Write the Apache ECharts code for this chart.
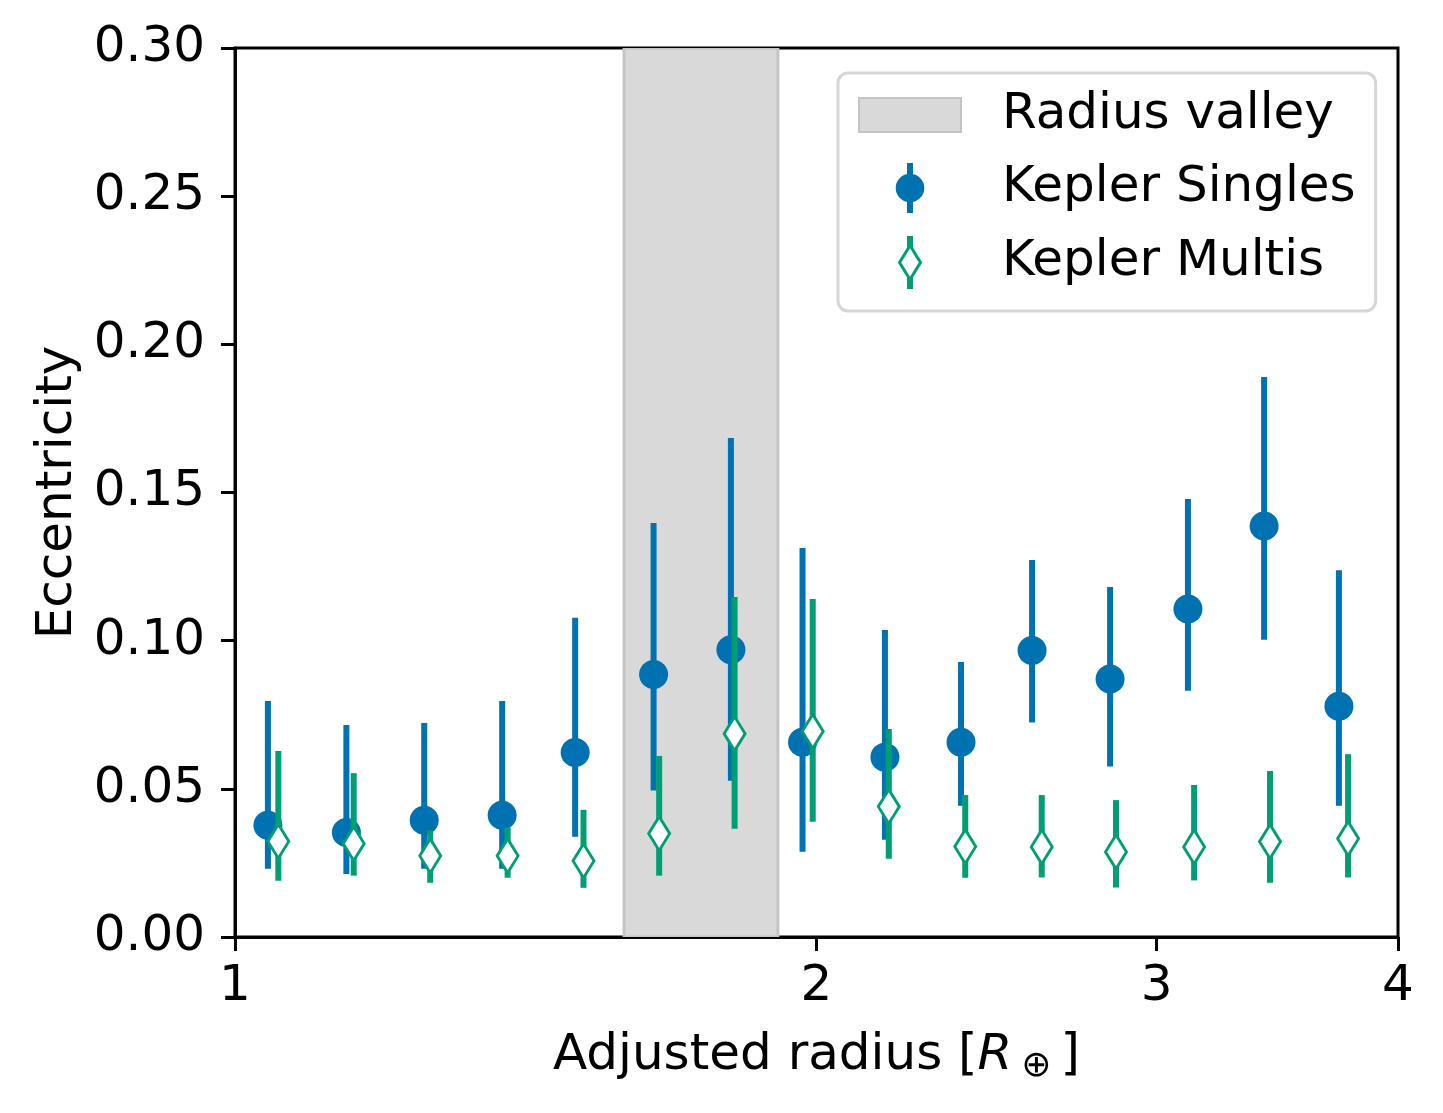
<!DOCTYPE html>
<html><head><meta charset="utf-8">
<script src="https://cdn.jsdelivr.net/npm/echarts@6/dist/echarts.min.js"></script>
<style>html,body{margin:0;padding:0;background:#fff}#c{width:1443px;height:1113px}</style>
</head><body><div id="c"></div>
<script>
// ---- data ----
const xTickValues = [1, 2, 3, 4];
const valleyRange = [1.59, 1.91];

const singlesR  = [1.040, 1.142, 1.253, 1.375, 1.500, 1.647, 1.806, 1.967, 2.170, 2.376, 2.586, 2.838, 3.114, 3.410, 3.728];
const singlesE  = [0.0377, 0.0353, 0.0394, 0.0411, 0.0623, 0.0886, 0.0969, 0.0657, 0.0607, 0.0657, 0.0967, 0.0871, 0.1107, 0.1387, 0.0779];
const singlesLo = [0.0230, 0.0213, 0.0230, 0.0230, 0.0338, 0.0494, 0.0527, 0.0288, 0.0328, 0.0443, 0.0724, 0.0575, 0.0831, 0.1003, 0.0443];
const singlesHi = [0.0796, 0.0715, 0.0722, 0.0796, 0.1077, 0.1397, 0.1684, 0.1313, 0.1036, 0.0928, 0.1272, 0.1181, 0.1478, 0.1890, 0.1238];

const multisR  = [1.053, 1.152, 1.262, 1.384, 1.515, 1.658, 1.814, 1.991, 2.180, 2.388, 2.616, 2.858, 3.137, 3.434, 3.769];
const multisE  = [0.0323, 0.0315, 0.0274, 0.0274, 0.0257, 0.0349, 0.0686, 0.0694, 0.0440, 0.0305, 0.0304, 0.0287, 0.0304, 0.0322, 0.0332];
const multisLo = [0.0190, 0.0207, 0.0183, 0.0200, 0.0166, 0.0207, 0.0365, 0.0389, 0.0264, 0.0200, 0.0201, 0.0167, 0.0191, 0.0183, 0.0201];
const multisHi = [0.0628, 0.0553, 0.0360, 0.0370, 0.0429, 0.0611, 0.1147, 0.1141, 0.0702, 0.0479, 0.0479, 0.0462, 0.0513, 0.0560, 0.0617];

// ---- styling ----
const BLUE = '#0072b2', GREEN = '#009e73';
const FONT = 'DejaVu Sans';
const FS = 50;

const chart = echarts.init(document.getElementById('c'), null, {renderer: 'canvas'});

function errRender(color) {
  return function (params, api) {
    const x = api.value(0);
    const p1 = api.coord([x, api.value(1)]);
    const p2 = api.coord([x, api.value(2)]);
    return {type: 'line', shape: {x1: p1[0], y1: p1[1], x2: p2[0], y2: p2[1]},
            style: {stroke: color, lineWidth: 6}};
  };
}

const singlesIcon = 'path://M-3,-25 L-3,25 L3,25 L3,-25 Z M-14.3,0 A14.3,14.3 0 1,0 14.3,0 A14.3,14.3 0 1,0 -14.3,0 Z';
const multisIcon = 'path://M0,-17 L10.5,0 L0,17 L-10.5,0 Z M-1.5,-25 L1.5,-25 L1.5,-17 L-1.5,-17 Z M-1.5,17 L1.5,17 L1.5,25 L-1.5,25 Z';
const patchIcon = 'path://M0,0 L102,0 L102,34 L0,34 Z';

const option = {
  animation: false,
  backgroundColor: '#fff',
  textStyle: {fontFamily: FONT},
  grid: {left: 235, top: 48, right: 45, bottom: 176, containLabel: false, outerBoundsMode: 'none',
         show: true, borderColor: '#000', borderWidth: 3, backgroundColor: 'transparent'},
  legend: {
    orient: 'vertical', left: 838, top: 73,
    padding: [17, 20, 22, 20],
    itemWidth: 102, itemHeight: 50, itemGap: 23,
    backgroundColor: '#fff', borderColor: '#d6d6d6', borderWidth: 3, borderRadius: 10,
    selectedMode: false,
    textStyle: {fontFamily: FONT, fontSize: FS, color: '#000', padding: [16, 0, 0, 36]},
    data: [
      {name: 'Radius valley', icon: patchIcon, itemStyle: {color: '#d9d9d9', borderColor: '#c4c4c4', borderWidth: 2}},
      {name: 'Kepler Singles', icon: singlesIcon, itemStyle: {color: BLUE, borderWidth: 0}},
      {name: 'Kepler Multis', icon: multisIcon, itemStyle: {color: '#fff', borderColor: GREEN, borderWidth: 3}}
    ]
  },
  xAxis: {
    type: 'log', logBase: 10, min: 1, max: 4,
    name: 'Adjusted radius [{i|R}{s|⊕}]', nameLocation: 'middle', nameGap: 94,
    nameTextStyle: {fontFamily: FONT, fontSize: FS, color: '#000',
      rich: {
        i: {fontFamily: FONT, fontSize: FS, fontStyle: 'italic', color: '#000'},
        s: {fontFamily: FONT, fontSize: 36, color: '#000', verticalAlign: 'top', lineHeight: 32, padding: [18, 9, 0, 9]}
      }},
    axisLine: {show: true, lineStyle: {color: '#000', width: 3}},
    axisTick: {show: true, length: 14, lineStyle: {color: '#000', width: 3}, customValues: xTickValues},
    axisLabel: {show: true, fontFamily: FONT, fontSize: FS, color: '#000', margin: 25, customValues: xTickValues,
                formatter: v => String(Math.round(v))},
    splitLine: {show: false}, minorTick: {show: false}, minorSplitLine: {show: false}
  },
  yAxis: {
    type: 'value', min: 0, max: 0.3, interval: 0.05,
    name: 'Eccentricity', nameLocation: 'middle', nameGap: 150, nameRotate: 90,
    nameTextStyle: {fontFamily: FONT, fontSize: FS, color: '#000'},
    axisLine: {show: true, lineStyle: {color: '#000', width: 3}},
    axisTick: {show: true, length: 14, lineStyle: {color: '#000', width: 3}},
    axisLabel: {fontFamily: FONT, fontSize: FS, color: '#000', margin: 30, formatter: v => v.toFixed(2)},
    splitLine: {show: false}
  },
  series: [
    {
      name: 'Radius valley', type: 'custom', z: 1, silent: true, clip: true,
      data: [[valleyRange[0], valleyRange[1]]],
      encode: {x: [0, 1]},
      renderItem: function (params, api) {
        const a = api.coord([api.value(0), 0.3]);
        const b = api.coord([api.value(1), 0]);
        return {type: 'rect', shape: {x: a[0], y: a[1], width: b[0] - a[0], height: b[1] - a[1]},
                style: {fill: '#d9d9d9', stroke: '#c4c4c4', lineWidth: 3}};
      },
      itemStyle: {color: '#d9d9d9'}
    },
    {
      name: 'singlesErr', type: 'custom', z: 2, silent: true,
      data: singlesR.map((r, i) => [r, singlesLo[i], singlesHi[i]]),
      encode: {x: 0, y: [1, 2]},
      renderItem: errRender(BLUE)
    },
    {
      name: 'Kepler Singles', type: 'scatter', z: 3, silent: true,
      symbol: 'circle', symbolSize: 29,
      data: singlesR.map((r, i) => [r, singlesE[i]]),
      itemStyle: {color: BLUE, opacity: 1}
    },
    {
      name: 'multisErr', type: 'custom', z: 4, silent: true,
      data: multisR.map((r, i) => [r, multisLo[i], multisHi[i]]),
      encode: {x: 0, y: [1, 2]},
      renderItem: errRender(GREEN)
    },
    {
      name: 'Kepler Multis', type: 'scatter', z: 5, silent: true,
      symbol: 'diamond', symbolSize: [21, 34],
      data: multisR.map((r, i) => [r, multisE[i]]),
      itemStyle: {color: '#fff', borderColor: GREEN, borderWidth: 3, opacity: 1}
    }
  ]
};
chart.setOption(option);
</script>
</body></html>
